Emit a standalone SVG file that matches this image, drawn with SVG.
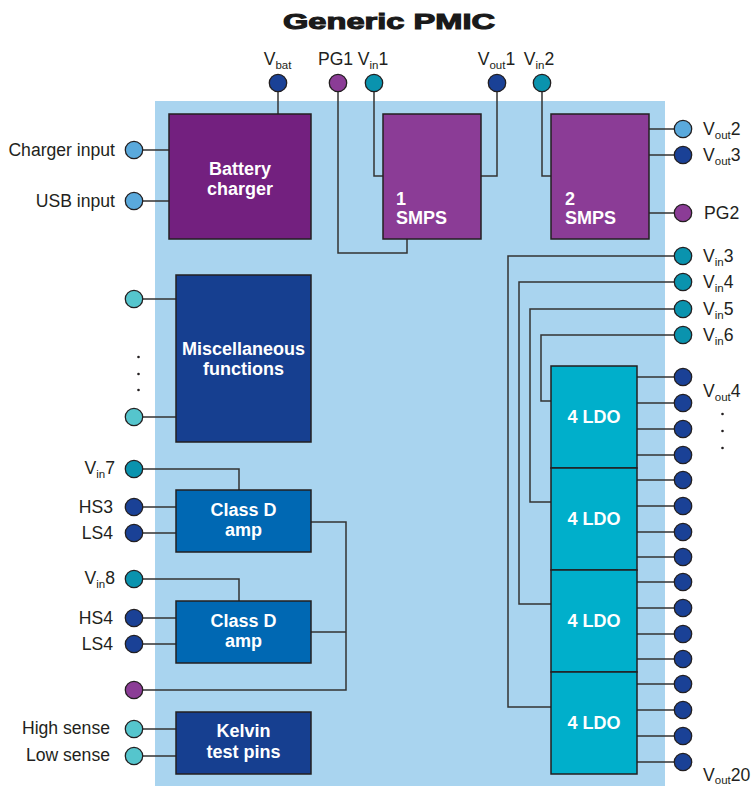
<svg xmlns="http://www.w3.org/2000/svg" width="755" height="786" viewBox="0 0 755 786">
<style>
.lbl{font-family:"Liberation Sans",Arial,sans-serif;font-size:17.6px;fill:#231f20}
.sub{font-size:11.5px}
.blk{font-family:"Liberation Sans",Arial,sans-serif;font-size:18px;font-weight:bold;fill:#fff}
.box{stroke:#231f20;stroke-width:1.5}
.wire{fill:none;stroke:#333;stroke-width:1.5}
.pin{stroke:#231f20;stroke-width:1.3}
.lb{fill:#5aa9dc}.db{fill:#1a4196}.pu{fill:#8b3c96}.te{fill:#0a93ae}.lt{fill:#55c5cd}
.dot{fill:#231f20}
</style>
<rect x="0" y="0" width="755" height="786" fill="#fff"/>
<rect id="chip" x="155" y="101" width="510" height="685" fill="#a9d4ef"/>
<text x="389" y="29" text-anchor="middle" font-family="'Liberation Sans',Arial,sans-serif" font-weight="bold" font-size="22.5" textLength="212" lengthAdjust="spacingAndGlyphs" fill="#1a1a1a" stroke="#1a1a1a" stroke-width="1.1">Generic PMIC</text>

<g id="connectors" class="wire">
<path d="M278 92V114"/>
<path d="M338 92V253H407V239"/>
<path d="M374 92V176H383"/>
<path d="M481 176H497V92"/>
<path d="M542 92V176H551"/>
<path d="M649 129H674M649 155H674M649 213H674"/>
<path d="M143 150H169M143 201H169"/>
<path d="M143 299H176M143 417H176"/>
<path d="M143 469H239V490M143 507H176M143 533H176"/>
<path d="M143 579H239V601M143 618H176M143 644H176"/>
<path d="M311 522H346V690H143M311 632H346"/>
<path d="M143 729H176M143 756H176"/>
<path d="M674 256H508V707H551"/>
<path d="M674 282H519V604H551"/>
<path d="M674 309H530V502H551"/>
<path d="M674 335H541V401H551"/>
<path d="M637 377H674M637 403H674M637 429H674M637 455H674M637 480H674M637 506H674M637 532H674M637 557H674M637 582H674M637 608H674M637 634H674M637 659H674M637 684H674M637 710H674M637 736H674M637 762H674"/>
</g>

<g id="battery-charger"><rect class="box" x="169" y="114" width="142" height="125" fill="#73207f"/><text class="blk" x="240" y="175" text-anchor="middle">Battery</text><text class="blk" x="240" y="195" text-anchor="middle">charger</text></g>
<g id="smps1"><rect class="box" x="383" y="114" width="98" height="125" fill="#8b3c96"/><text class="blk" x="396" y="205">1</text><text class="blk" x="396" y="224">SMPS</text></g>
<g id="smps2"><rect class="box" x="551" y="114" width="98" height="125" fill="#8b3c96"/><text class="blk" x="565" y="205">2</text><text class="blk" x="565" y="224">SMPS</text></g>
<g id="misc"><rect class="box" x="176" y="275" width="135" height="167" fill="#163f90"/><text class="blk" x="243.5" y="355" text-anchor="middle">Miscellaneous</text><text class="blk" x="243.5" y="375" text-anchor="middle">functions</text></g>
<g id="classd1"><rect class="box" x="176" y="490" width="135" height="62" fill="#0068b3"/><text class="blk" x="243.5" y="516" text-anchor="middle">Class D</text><text class="blk" x="243.5" y="536" text-anchor="middle">amp</text></g>
<g id="classd2"><rect class="box" x="176" y="601" width="135" height="62" fill="#0068b3"/><text class="blk" x="243.5" y="627" text-anchor="middle">Class D</text><text class="blk" x="243.5" y="647" text-anchor="middle">amp</text></g>
<g id="kelvin"><rect class="box" x="176" y="712" width="135" height="62" fill="#163f90"/><text class="blk" x="243.5" y="737" text-anchor="middle">Kelvin</text><text class="blk" x="243.5" y="758" text-anchor="middle">test pins</text></g>
<g id="ldo1"><rect class="box" x="551" y="366" width="86" height="102" fill="#00afcb"/><text class="blk" x="594" y="423" text-anchor="middle">4 LDO</text></g>
<g id="ldo2"><rect class="box" x="551" y="468" width="86" height="102" fill="#00afcb"/><text class="blk" x="594" y="525" text-anchor="middle">4 LDO</text></g>
<g id="ldo3"><rect class="box" x="551" y="570" width="86" height="102" fill="#00afcb"/><text class="blk" x="594" y="627" text-anchor="middle">4 LDO</text></g>
<g id="ldo4"><rect class="box" x="551" y="672" width="86" height="102" fill="#00afcb"/><text class="blk" x="594" y="729" text-anchor="middle">4 LDO</text></g>

<g id="pins-top" class="pin">
<circle class="db" cx="278" cy="83" r="8.7"/>
<circle class="pu" cx="338" cy="83" r="8.7"/>
<circle class="te" cx="374" cy="83" r="8.7"/>
<circle class="db" cx="497" cy="83" r="8.7"/>
<circle class="te" cx="542" cy="83" r="8.7"/>
</g>
<g id="labels-top">
<text class="lbl" x="277.5" y="65" text-anchor="middle">V<tspan class="sub" dy="4">bat</tspan></text>
<text class="lbl" x="335.5" y="65" text-anchor="middle">PG1</text>
<text class="lbl" x="373" y="65" text-anchor="middle">V<tspan class="sub" dy="4">in</tspan><tspan dy="-4">1</tspan></text>
<text class="lbl" x="496.5" y="65" text-anchor="middle">V<tspan class="sub" dy="4">out</tspan><tspan dy="-4">1</tspan></text>
<text class="lbl" x="539" y="65" text-anchor="middle">V<tspan class="sub" dy="4">in</tspan><tspan dy="-4">2</tspan></text>
</g>

<g id="pins-left" class="pin">
<circle class="lb" cx="134" cy="150" r="8.7"/>
<circle class="lb" cx="134" cy="201" r="8.7"/>
<circle class="lt" cx="134" cy="299" r="8.7"/>
<circle class="lt" cx="134" cy="417" r="8.7"/>
<circle class="te" cx="134" cy="469" r="8.7"/>
<circle class="db" cx="134" cy="507" r="8.7"/>
<circle class="db" cx="134" cy="533" r="8.7"/>
<circle class="te" cx="134" cy="579" r="8.7"/>
<circle class="db" cx="134" cy="618" r="8.7"/>
<circle class="db" cx="134" cy="644" r="8.7"/>
<circle class="pu" cx="134" cy="690" r="8.7"/>
<circle class="lt" cx="134" cy="729" r="8.7"/>
<circle class="lt" cx="134" cy="756" r="8.7"/>
</g>
<g id="labels-left">
<text class="lbl" x="115" y="156" text-anchor="end">Charger input</text>
<text class="lbl" x="115" y="207" text-anchor="end">USB input</text>
<circle class="dot" cx="138.5" cy="357" r="1.3"/><circle class="dot" cx="138.5" cy="374" r="1.3"/><circle class="dot" cx="138.5" cy="390" r="1.3"/>
<text class="lbl" x="115" y="474" text-anchor="end">V<tspan class="sub" dy="4">in</tspan><tspan dy="-4">7</tspan></text>
<text class="lbl" x="113" y="513" text-anchor="end">HS3</text>
<text class="lbl" x="113" y="539" text-anchor="end">LS4</text>
<text class="lbl" x="115" y="584" text-anchor="end">V<tspan class="sub" dy="4">in</tspan><tspan dy="-4">8</tspan></text>
<text class="lbl" x="113" y="624" text-anchor="end">HS4</text>
<text class="lbl" x="113" y="650" text-anchor="end">LS4</text>
<text class="lbl" x="110" y="734" text-anchor="end">High sense</text>
<text class="lbl" x="110" y="761" text-anchor="end">Low sense</text>
</g>

<g id="pins-right" class="pin">
<circle class="lb" cx="683" cy="129" r="8.7"/>
<circle class="db" cx="683" cy="155" r="8.7"/>
<circle class="pu" cx="683" cy="213" r="8.7"/>
<circle class="te" cx="683" cy="256" r="8.7"/>
<circle class="te" cx="683" cy="282" r="8.7"/>
<circle class="te" cx="683" cy="309" r="8.7"/>
<circle class="te" cx="683" cy="335" r="8.7"/>
<circle class="db" cx="683" cy="377" r="8.7"/>
<circle class="db" cx="683" cy="403" r="8.7"/>
<circle class="db" cx="683" cy="429" r="8.7"/>
<circle class="db" cx="683" cy="455" r="8.7"/>
<circle class="db" cx="683" cy="480" r="8.7"/>
<circle class="db" cx="683" cy="506" r="8.7"/>
<circle class="db" cx="683" cy="532" r="8.7"/>
<circle class="db" cx="683" cy="557" r="8.7"/>
<circle class="db" cx="683" cy="582" r="8.7"/>
<circle class="db" cx="683" cy="608" r="8.7"/>
<circle class="db" cx="683" cy="634" r="8.7"/>
<circle class="db" cx="683" cy="659" r="8.7"/>
<circle class="db" cx="683" cy="684" r="8.7"/>
<circle class="db" cx="683" cy="710" r="8.7"/>
<circle class="db" cx="683" cy="736" r="8.7"/>
<circle class="db" cx="683" cy="762" r="8.7"/>
</g>
<g id="labels-right">
<text class="lbl" x="703" y="135">V<tspan class="sub" dy="4">out</tspan><tspan dy="-4">2</tspan></text>
<text class="lbl" x="703" y="161">V<tspan class="sub" dy="4">out</tspan><tspan dy="-4">3</tspan></text>
<text class="lbl" x="704" y="219">PG2</text>
<text class="lbl" x="703" y="262">V<tspan class="sub" dy="4">in</tspan><tspan dy="-4">3</tspan></text>
<text class="lbl" x="703" y="288">V<tspan class="sub" dy="4">in</tspan><tspan dy="-4">4</tspan></text>
<text class="lbl" x="703" y="315">V<tspan class="sub" dy="4">in</tspan><tspan dy="-4">5</tspan></text>
<text class="lbl" x="703" y="341">V<tspan class="sub" dy="4">in</tspan><tspan dy="-4">6</tspan></text>
<text class="lbl" x="703" y="397">V<tspan class="sub" dy="4">out</tspan><tspan dy="-4">4</tspan></text>
<circle class="dot" cx="722.5" cy="414" r="1.3"/><circle class="dot" cx="722.5" cy="431" r="1.3"/><circle class="dot" cx="722.5" cy="448" r="1.3"/>
<text class="lbl" x="703" y="781">V<tspan class="sub" dy="3">out</tspan><tspan dy="-3">20</tspan></text>
</g>
</svg>
